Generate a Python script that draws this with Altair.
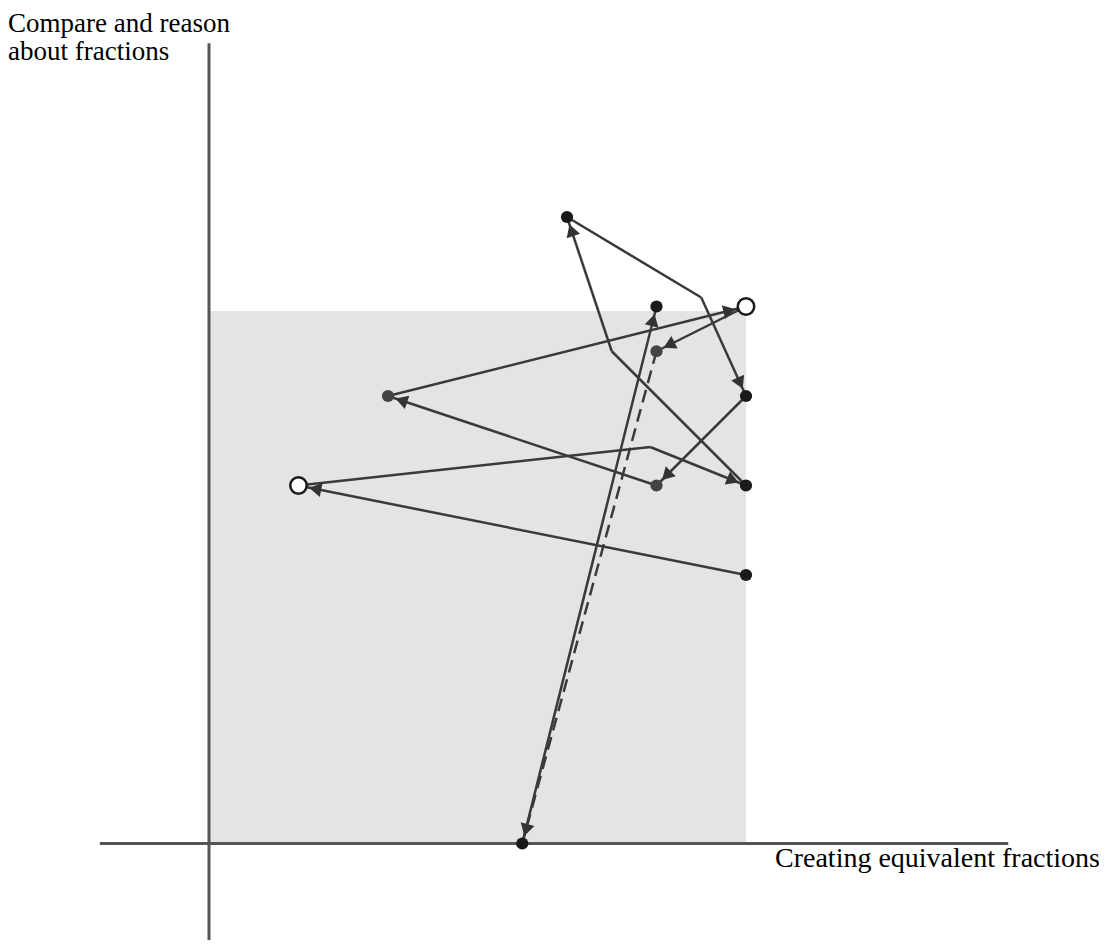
import altair as alt
import pandas as pd
import math

# ---- data ----
node_names = ["A", "B", "C", "D", "E", "F", "G", "H", "I", "J", "K"]
node_x     = [4.0, 6.0, 5.0, 5.0, 2.0, 6.0, 1.0, 5.0, 6.0, 6.0, 3.5]
node_y     = [7.0, 6.0, 6.0, 5.5, 5.0, 5.0, 4.0, 4.0, 4.0, 3.0, 0.0]
node_kind  = ["black", "open", "black", "gray", "gray", "black", "open", "gray", "black", "black", "black"]

# moves between nodes (with optional bend points)
move_from   = ["J", "G", "I", "A", "F", "H", "E", "B", "D", "K"]
move_to     = ["G", "I", "A", "F", "H", "E", "B", "D", "K", "C"]
move_bend_x = [None, 4.93, 4.5, 5.5, None, None, None, None, None, None]
move_bend_y = [None, 4.43, 5.5, 6.1, None, None, None, None, None, None]
move_dashed = [False, False, False, False, False, False, False, False, True, False]

# region and axes
region_x = [0.0, 6.0]
region_y = [0.0, 5.95]
xaxis_span = [-1.22, 8.93]
yaxis_span = [-1.08, 8.94]
x_title = "Creating equivalent fractions"
y_title = ["Compare and reason", "about fractions"]

# ---- layout ----
W, H = 1091, 932
PPU = 89.5
xmin = -201 / PPU
xmax = xmin + W / PPU
ymax = 835.5 / PPU
ymin = ymax - H / PPU

xs = alt.Scale(domain=[xmin, xmax], nice=False, zero=False)
ys = alt.Scale(domain=[ymin, ymax], nice=False, zero=False)

pos = {n: (x, y) for n, x, y in zip(node_names, node_x, node_y)}
kind = dict(zip(node_names, node_kind))

segs = []
heads = []
for f, t, bx, by, d in zip(move_from, move_to, move_bend_x, move_bend_y, move_dashed):
    pts = [pos[f]]
    if bx is not None:
        pts.append((bx, by))
    pts.append(pos[t])
    for (x1, y1), (x2, y2) in zip(pts[:-1], pts[1:]):
        segs.append(dict(x=x1, y=y1, x2=x2, y2=y2, dashed=d))
    (x1, y1), (x2, y2) = pts[-2], pts[-1]
    L = math.hypot(x2 - x1, y2 - y1)
    gap = (17 if kind[t] == "open" else 14) / PPU
    heads.append(dict(hx=x2 - gap * (x2 - x1) / L, hy=y2 - gap * (y2 - y1) / L,
                      ang=(math.degrees(math.atan2(x2 - x1, y2 - y1)) + 360) % 360))

seg_df = pd.DataFrame(segs)
head_df = pd.DataFrame(heads)
node_df = pd.DataFrame(dict(name=node_names, x=node_x, y=node_y, kind=node_kind))

base_x = lambda f: alt.X(f, scale=xs, axis=None)
base_y = lambda f: alt.Y(f, scale=ys, axis=None)

rect = alt.Chart(pd.DataFrame(dict(x=[region_x[0]], x2=[region_x[1]], y=[region_y[0]], y2=[region_y[1]]))).mark_rect(
    color="#e4e4e4").encode(x=base_x("x:Q"), x2="x2:Q", y=base_y("y:Q"), y2="y2:Q")

axes_df = pd.DataFrame(dict(
    x=[xaxis_span[0], 0.0], x2=[xaxis_span[1], 0.0],
    y=[0.0, yaxis_span[0]], y2=[0.0, yaxis_span[1]]))
axes = alt.Chart(axes_df).mark_rule(color="#555555", strokeWidth=3).encode(
    x=base_x("x:Q"), x2="x2:Q", y=base_y("y:Q"), y2="y2:Q")

solid = alt.Chart(seg_df[~seg_df.dashed]).mark_rule(color="#3a3a3a", strokeWidth=2.5).encode(
    x=base_x("x:Q"), x2="x2:Q", y=base_y("y:Q"), y2="y2:Q")
dashed = alt.Chart(seg_df[seg_df.dashed]).mark_rule(color="#3a3a3a", strokeWidth=2.5, strokeDash=[13, 7]).encode(
    x=base_x("x:Q"), x2="x2:Q", y=base_y("y:Q"), y2="y2:Q")

arrows = alt.Chart(head_df).mark_point(shape="triangle-up", filled=True, size=200, color="#333333", opacity=1).encode(
    x=base_x("hx:Q"), y=base_y("hy:Q"), angle=alt.Angle("ang:Q", scale=None))

filled = alt.Chart(node_df[node_df.kind != "open"]).mark_circle(size=150, opacity=1).encode(
    x=base_x("x:Q"), y=base_y("y:Q"),
    color=alt.Color("kind:N", scale=alt.Scale(domain=["black", "gray"], range=["#1a1a1a", "#444444"]), legend=None))
opened = alt.Chart(node_df[node_df.kind == "open"]).mark_point(
    shape="circle", size=270, filled=True, fill="white", stroke="#1a1a1a", strokeWidth=2.5, opacity=1).encode(
    x=base_x("x:Q"), y=base_y("y:Q"))

ytitle = alt.Chart(pd.DataFrame(dict(t=[y_title]))).mark_text(
    font="Liberation Serif", fontSize=27, align="left", baseline="alphabetic", lineHeight=28, color="black").encode(
    text="t", x=alt.value(0), y=alt.value(24))
xtitle = alt.Chart(pd.DataFrame(dict(t=[x_title]))).mark_text(
    font="Liberation Serif", fontSize=28, align="right", baseline="alphabetic", color="black").encode(
    text="t:N", x=alt.value(1092), y=alt.value(859))

chart = alt.layer(rect, axes, solid, dashed, arrows, filled, opened, ytitle, xtitle).properties(
    width=W, height=H, padding=0, autosize="none").configure_view(stroke=None)

chart.save("out.html", embed_options={"renderer": "svg", "actions": False})
